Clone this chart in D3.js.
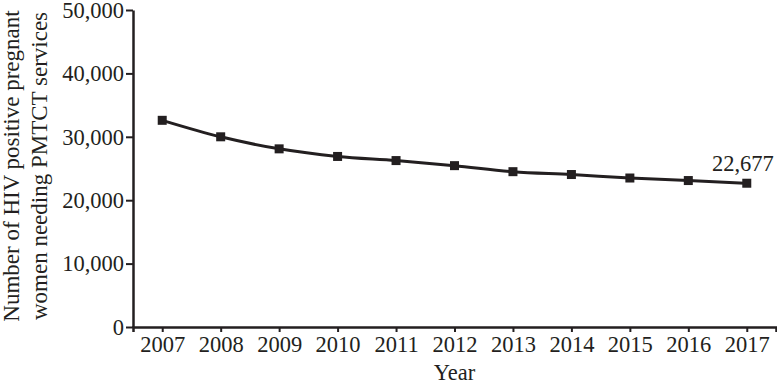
<!DOCTYPE html>
<html>
  <head>
    <meta charset="utf-8">
    <script src="https://d3js.org/d3.v7.min.js"></script>
    <style>
      body { margin: 0; background: #fff; }
      text { font-family: "Liberation Serif", "Times New Roman", serif; fill: #231f20; }
    </style>
  </head>
<body>
  <script type="text/javascript">
    // values
    var years = ["2007", "2008", "2009", "2010", "2011", "2012", "2013", "2014", "2015", "2016", "2017"];
    var women = [32600, 30000, 28100, 26900, 26250, 25450, 24500, 24050, 23500, 23100, 22677];
    var yTicks = [0, 10000, 20000, 30000, 40000, 50000];

    function draw() {
      "use strict";
      var width = 777, height = 383;
      var mLeft = 133, mRight = 776, mTop = 10, mBottom = 327;

      var svg = d3.select("body")
        .append("svg")
          .attr("width", width)
          .attr("height", height);

      var x = d3.scalePoint()
        .domain(years)
        .range([mLeft, mRight])
        .padding(0.5);

      var y = d3.scaleLinear()
        .domain([0, 50000])
        .range([mBottom, mTop]);

      var fmt = d3.format(",");
      var ink = "#231f20";

      // y axis
      var yAxis = svg.append("g")
        .attr("transform", "translate(" + mLeft + ",0)")
        .call(d3.axisLeft(y).tickValues(yTicks).tickFormat(fmt).tickSize(7).tickSizeOuter(0).tickPadding(2));

      // x axis
      var xAxis = svg.append("g")
        .attr("transform", "translate(0," + mBottom + ")")
        .call(d3.axisBottom(x).tickSize(5).tickSizeOuter(5).tickPadding(4));

      [yAxis, xAxis].forEach(function (g) {
        g.select(".domain").attr("stroke", ink).attr("stroke-width", 2.5);
        g.selectAll(".tick line").attr("stroke", ink).attr("stroke-width", 2);
        g.selectAll("text")
          .style("font-family", "Liberation Serif, serif")
          .style("font-size", "22.5px")
          .attr("fill", ink);
      });

      // the line
      var line = d3.line()
        .x(function (d, i) { return x(years[i]); })
        .y(function (d) { return y(d); })
        .curve(d3.curveMonotoneX);

      svg.append("path")
        .datum(women)
        .attr("fill", "none")
        .attr("stroke", ink)
        .attr("stroke-width", 3)
        .attr("d", line);

      var sq = 9;
      svg.selectAll("rect.pt")
        .data(women)
        .enter()
        .append("rect")
          .attr("class", "pt")
          .attr("x", function (d, i) { return x(years[i]) - sq / 2; })
          .attr("y", function (d) { return y(d) - sq / 2; })
          .attr("width", sq)
          .attr("height", sq)
          .attr("fill", ink);

      // last value label
      var last = women.length - 1;
      svg.append("text")
        .attr("x", x(years[last]) + 27)
        .attr("y", y(women[last]) - 12)
        .attr("text-anchor", "end")
        .style("font-size", "22.5px")
        .text(fmt(women[last]));

      // axis titles
      svg.append("text")
        .attr("x", (mLeft + mRight) / 2)
        .attr("y", 380)
        .attr("text-anchor", "middle")
        .style("font-size", "22.5px")
        .text("Year");

      svg.selectAll("text.ytitle")
        .data(["Number of HIV positive pregnant", "women needing PMTCT services"])
        .enter()
        .append("text")
          .attr("class", "ytitle")
          .attr("text-anchor", "middle")
          .attr("transform", function (d, i) { return "translate(" + (19 + i * 28) + ",166) rotate(-90)"; })
          .style("font-size", "23px")
          .text(function (d) { return d; });
    }

    draw();
  </script>
</body>
</html>
